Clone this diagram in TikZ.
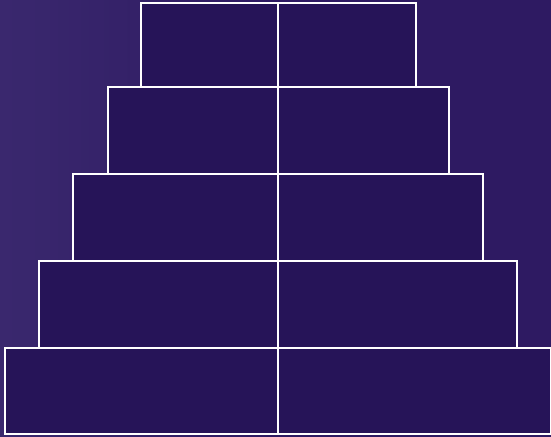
\documentclass[tikz,border=0pt]{standalone}
\usepackage{tikz}
\definecolor{bgpurple}{RGB}{46, 26, 98}
\definecolor{bglight}{RGB}{58, 40, 110}
\definecolor{tierpurple}{RGB}{38, 20, 88}
\tikzset{
  tierbox/.style={draw=white, line width=0.075cm, fill=tierpurple},
  tierline/.style={draw=white, line width=0.075cm}
}
\begin{document}
\begin{tikzpicture}[x=0.05cm, y=-0.05cm]
  \useasboundingbox (0, 0) rectangle (551, 436);
  \shade[left color=bglight, right color=bgpurple, middle color=bgpurple] (0, 0) rectangle (551, 436);

  % tiers of the pyramid, top to bottom
  \foreach \l/\r/\t/\b in {141/416/3/87, 108/449/87/174, 73/483/174/261, 39/517/261/348, 5/551/348/434} {
    \draw[tierbox] (\l, \t) rectangle (\r, \b);
  }
  \draw[tierline] (278, 3) -- (278, 434);
\end{tikzpicture}
\end{document}
